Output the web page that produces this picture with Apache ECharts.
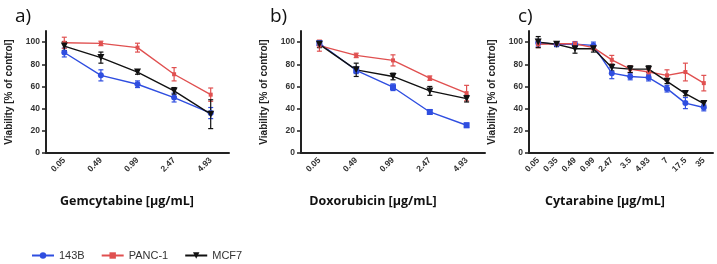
<!DOCTYPE html>
<html><head><meta charset="utf-8">
<script src="https://cdn.jsdelivr.net/npm/echarts@6/dist/echarts.min.js"></script>
<style>html,body{margin:0;padding:0;background:#fff}#c{width:717px;height:264px}</style>
</head><body><div id="c"></div>
<script>
const catA = ['0.05','0.49','0.99','2.47','4.93'];
const catB = ['0.05','0.49','0.99','2.47','4.93'];
const catC = ['0.05','0.35','0.49','0.99','2.47','3.5','4.93','7','17.5','35'];
const yTicks = [0,20,40,60,80,100];

const a143B = [90.6,70,62,50,36];     const a143BErr = [4,5,3,4,5];
const aPANC1 = [99.4,98.8,95,71,52.6]; const aPANC1Err = [5,2,4,6,6];
const aMCF7 = [96.4,86,73,56,35];      const aMCF7Err = [4,5,2,3,13];

const b143B = [99,74.6,59.3,37,25];    const b143BErr = [2,3,3,2,2];
const bPANC1 = [96.8,88,83.5,67.5,54]; const bPANC1Err = [5,2,5,2,7];
const bMCF7 = [98,75,69,56,49];        const bMCF7Err = [3,6,3,4,3];

const c143B = [99.4,98,98,97,72,69,68,58,45,41];        const c143BErr = [3,2,2,3,5,3,3,3,5,3];
const cPANC1 = [98,98.5,98.5,95,84,75.6,73,70,73,63];   const cPANC1Err = [3,1,2,2,4,3,3,5,8,7];
const cMCF7 = [100,98,94,94,77,75.6,75.6,64.6,53.6,44.6]; const cMCF7Err = [5,2,4,3,3,3,3,2,2,2];

const drugs = ['Gemcytabine [µg/mL]','Doxorubicin [µg/mL]','Cytarabine [µg/mL]'];
const letters = ['a)','b)','c)'];
const seriesNames = ['143B','PANC-1','MCF7'];

const COL = {'143B':'#2f4ee0','PANC-1':'#e05050','MCF7':'#111111'};
const SYM = {'143B':'circle','PANC-1':'rect','MCF7':'triangle'};

const panels = [
  {cats:catA, data:{'143B':[a143B,a143BErr],'PANC-1':[aPANC1,aPANC1Err],'MCF7':[aMCF7,aMCF7Err]}, left:46, width:183, sym143:'circle'},
  {cats:catB, data:{'143B':[b143B,b143BErr],'PANC-1':[bPANC1,bPANC1Err],'MCF7':[bMCF7,bMCF7Err]}, left:301, width:184, sym143:'rect'},
  {cats:catC, data:{'143B':[c143B,c143BErr],'PANC-1':[cPANC1,cPANC1Err],'MCF7':[cMCF7,cMCF7Err]}, left:529, width:184, sym143:'circle'}
];

const grids=[], xAxes=[], yAxes=[], series=[], titles=[];
const FONT = 'Liberation Sans';
panels.forEach((p,gi)=>{
  grids.push({left:p.left, width:p.width, top:31, height:122});
  xAxes.push({type:'category', gridIndex:gi, data:p.cats, boundaryGap:true,
    axisLine:{lineStyle:{color:'#222',width:2}},
    axisTick:{alignWithLabel:true, length:4, lineStyle:{color:'#222',width:1.5}},
    axisLabel:{rotate:45, fontSize:8.5, fontWeight:'bold', color:'#333', margin:6, fontFamily:FONT, interval:0}
  });
  yAxes.push({type:'value', gridIndex:gi, min:0, max:110,
    name:'Viability [% of control]', nameLocation:'middle', nameGap:32,
    nameTextStyle:{fontSize:10, fontWeight:'bold', color:'#222', fontFamily:FONT},
    axisLine:{show:true, lineStyle:{color:'#222',width:2}},
    axisTick:{show:true, length:4, customValues:yTicks, lineStyle:{color:'#222',width:1.5}},
    axisLabel:{customValues:yTicks, fontSize:8.5, fontWeight:'bold', color:'#333', margin:6, fontFamily:FONT},
    splitLine:{show:false}
  });
  seriesNames.forEach(name=>{
    const vals = p.data[name][0], errs = p.data[name][1];
    let sym = name==='143B'?p.sym143:SYM[name];
    series.push({type:'line', name:name, xAxisIndex:gi, yAxisIndex:gi, data:vals,
      symbol:sym, symbolSize: name==='PANC-1'?4: (name==='MCF7'?7:6), symbolRotate: name==='MCF7'?180:0,
      showAllSymbol:true, lineStyle:{color:COL[name],width:1.4}, itemStyle:{color:COL[name]}, z:3});
    series.push({type:'custom', name:name+'-err', xAxisIndex:gi, yAxisIndex:gi,
      data: vals.map((v,i)=>[i,v,errs[i]]), z:2,
      renderItem:(params,api)=>{
        const x=api.value(0), y=api.value(1), e=api.value(2);
        const t=api.coord([x,y+e]), b=api.coord([x,y-e]);
        const w=2.5, st={stroke:COL[name], lineWidth:1.2};
        return {type:'group', children:[
          {type:'line', shape:{x1:t[0],y1:t[1],x2:b[0],y2:b[1]}, style:st},
          {type:'line', shape:{x1:t[0]-w,y1:t[1],x2:t[0]+w,y2:t[1]}, style:st},
          {type:'line', shape:{x1:b[0]-w,y1:b[1],x2:b[0]+w,y2:b[1]}, style:st}
        ]};
      }});
  });
});
const letterX = [10, 265, 513];
letters.forEach((l,i)=>titles.push({text:l, left:letterX[i], top:2, textStyle:{fontSize:19, fontWeight:'normal', color:'#111', fontFamily:'Open Sans'}}));
const nameX = [122, 368, 600];
drugs.forEach((d,i)=>{
  titles.push({text:d, left:nameX[i], top:190, textAlign:'center', textStyle:{fontSize:12.5, fontWeight:'bold', color:'#111', fontFamily:'Open Sans'}});
});

const chart = echarts.init(document.getElementById('c'), null, {renderer:'canvas'});
chart.setOption({
  animation:false,
  title:titles,
  grid:grids, xAxis:xAxes, yAxis:yAxes, series:series,
  legend:{data:seriesNames, left:26, top:245, itemWidth:22, itemHeight:8, itemGap:16,
    textStyle:{fontSize:11, color:'#333', fontFamily:FONT}}
});
</script></body></html>
